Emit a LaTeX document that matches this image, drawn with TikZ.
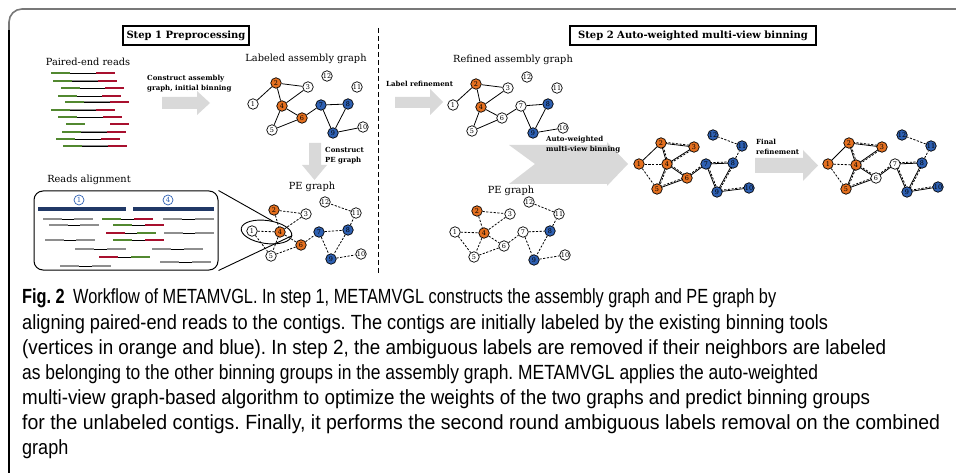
\documentclass[tikz,border=0pt]{standalone}
\usepackage{fontspec}
\usepackage{graphicx}
\setmainfont{DejaVu Serif}
\newfontfamily\capfont{Liberation Sans}[FakeStretch=0.88]
\usetikzlibrary{calc,backgrounds,shapes.geometric}
\frenchspacing

\definecolor{corange}{RGB}{228,112,32}
\definecolor{cblue}{RGB}{46,96,178}
\definecolor{cgreen}{RGB}{82,136,48}
\definecolor{cred}{RGB}{168,16,46}
\definecolor{cnavy}{RGB}{32,56,102}
\definecolor{cread}{RGB}{142,142,142}
\definecolor{carrow}{RGB}{217,217,217}
\definecolor{cframe}{RGB}{120,120,120}

% edges of the assembly graph, the PE graph and their combination
\newcommand\asmedges[1]{\foreach \a/\b in {1/2,2/3,2/4,3/4,4/5,4/6,5/6,6/7,7/8,7/9,8/9,9/10}{\draw[asm] (#1\a) -- (#1\b);}}
\newcommand\peedges[1]{\foreach \a/\b in {1/4,1/5,2/3,2/4,3/4,4/5,4/6,5/6,6/7,7/8,7/9,8/9,8/11,11/12,9/10}{\draw[pe] (#1\a) -- (#1\b);}}
\newcommand\combedges[1]{%
  \draw[asm] (#11) -- (#12);
  \foreach \a/\b in {1/4,1/5,8/11,11/12}{\draw[pe] (#1\a) -- (#1\b);}
  \foreach \a/\b in {2/3,2/4,3/4,4/5,4/6,5/6,6/7,7/8,7/9,8/9,9/10}{%
    \draw[asm] (#1\a.center) -- (#1\b.center);
    \draw[pe] ($(#1\a.center)!1.2pt!90:(#1\b.center)$) -- ($(#1\b.center)!1.2pt!-90:(#1\a.center)$);}}
% one paired read: bar, insert line, bar
\newcommand\pread[7]{%
  \draw[bar,#6] (#2,#1) -- (#3,#1);
  \draw[ins] (#3,#1) -- (#4,#1);
  \draw[bar,#7] (#4,#1) -- (#5,#1);}
% caption line set to a given width
\newcommand\capfit[2]{\resizebox{#1pt}{\height}{#2}}

\begin{document}
\begin{tikzpicture}[x=1pt,y=-1pt,
  vtx/.style={circle,draw,line width=0.7,minimum size=10.5,inner sep=0,
    font=\fontsize{6.5}{7}\selectfont},
  wv/.style={vtx,fill=white},
  ov/.style={vtx,fill=corange},
  bv/.style={vtx,fill=cblue},
  asm/.style={line width=0.8},
  pe/.style={line width=0.8,dash pattern=on 2.2pt off 1.5pt},
  bar/.style={line width=2.8,line cap=butt},
  ins/.style={line width=0.7},
  stepbox/.style={draw,line width=1.2,minimum height=19,inner sep=0,
    font=\bfseries\fontsize{10}{11}\selectfont},
  title/.style={font=\fontsize{9.8}{11}\selectfont},
  small/.style={font=\bfseries\fontsize{7}{10}\selectfont,align=left,anchor=west,inner sep=0},
  blockarrow/.style={fill=carrow,draw=none},
  capline/.style={anchor=base west,inner sep=0,font=\capfont\fontsize{20.5}{25}\selectfont}
]
\useasboundingbox (0,0) rectangle (956,473);

% outer frame, open at right and bottom
\draw[cframe,line width=1.6,rounded corners=13] (9,300) -- (9,9) -- (956,9);
\draw[line width=1.3] (9,30) -- (9,473);

% separator between the two steps
\draw[line width=0.9,dash pattern=on 5pt off 3pt] (378,28) -- (378,274);

% step headings
\node[stepbox,minimum width=126] (step1) at (186,35.5) {Step 1 Preprocessing};
\node[stepbox,minimum width=246] (step2) at (693,35.5) {Step 2 Auto-weighted multi-view binning};

% ---------- paired-end reads ----------
\node[title] (pairedT) at (88,62) {Paired-end reads};
\pread{73}{51}{70}{96}{115}{cgreen}{cred}
\pread{81}{53}{72}{98}{117}{cgreen}{cred}
\pread{88}{61}{80}{105}{124}{cgreen}{cred}
\pread{96}{58}{77}{102}{121}{cgreen}{cred}
\pread{102}{65}{84}{110}{129}{cgreen}{cred}
\pread{110}{51}{70}{96}{115}{cgreen}{cred}
\pread{117}{58}{77}{103}{122}{cgreen}{cred}
\draw[bar,cgreen] (66,124) -- (85,124);
\draw[bar,cred] (110,124) -- (129,124);
\pread{132}{62}{81}{107}{126}{cgreen}{cred}
\pread{139}{56}{75}{101}{120}{cgreen}{cred}
\pread{146}{63}{82}{108}{127}{cgreen}{cred}
% grey inserts
\foreach \y/\a/\b in {81/72/98,102/84/110,110/70/96,132/81/107,146/82/108}
  \draw[ins,cread,line width=1] (\a,\y) -- (\b,\y);

% arrow: construct assembly graph
\fill[blockarrow] (162,97) -- (197,97) -- (197,91) -- (210,103) -- (197,115) -- (197,109) -- (162,109) -- cycle;
\node[small] (lbl1) at (147,84) {Construct assembly\\graph, initial binning};

% ---------- labeled assembly graph ----------
\node[title] (asmT) at (306,59) {Labeled assembly graph};
\foreach \n/\x/\y/\s in {1/253/104/wv,2/276/83/ov,3/308/87/wv,4/282/106/ov,5/272/130/wv,6/302/118/ov,
  7/321/105/bv,8/348/104/bv,9/333/133/bv,10/363/127/wv,11/357/87/wv,12/327/76/wv}
  \node[\s] (A\n) at (\x,\y) {\n};
\begin{pgfonlayer}{background}\asmedges{A}\end{pgfonlayer}

% arrow: construct PE graph
\fill[blockarrow] (309,143) -- (321,143) -- (321,165) -- (327,165) -- (314.5,180) -- (302,165) -- (309,165) -- cycle;
\node[small] (lbl2) at (325,156) {Construct\\PE graph};

% ---------- PE graph (step 1) ----------
\node[title] (peT1) at (312,187) {PE graph};
\foreach \n/\x/\y/\s in {1/252/231/wv,2/274/210/ov,3/306/214/wv,4/280/232/ov,5/271/256/wv,6/301/245/ov,
  7/319/232/bv,8/348/230/bv,9/331/259/bv,10/361/254/wv,11/356/213/wv,12/325/202/wv}
  \node[\s] (P\n) at (\x,\y) {\n};
\begin{pgfonlayer}{background}\peedges{P}\end{pgfonlayer}
\node[ellipse,draw,line width=0.9,minimum width=51,minimum height=23,inner sep=0,rotate=-8] (ell) at (266.5,232) {};

% ---------- reads alignment ----------
\node[title] (alignT) at (89,180) {Reads alignment};
\node[draw,line width=1,rounded corners=9,minimum width=184,minimum height=79,inner sep=0] (rbox) at (126,230.5) {};
\draw[line width=0.9] (rbox.north east) -- (ell.70);
\draw[line width=0.9] (rbox.south east) -- (ell.east);
\node[circle,draw=cblue,text=cblue,line width=0.7,minimum size=10,inner sep=0,font=\fontsize{7}{8}\selectfont] (c1) at (79,200) {1};
\node[circle,draw=cblue,text=cblue,line width=0.7,minimum size=10,inner sep=0,font=\fontsize{7}{8}\selectfont] (c4) at (168,200) {4};
\draw[bar,cnavy,line width=3.5] (38,209) -- (126,209);
\draw[bar,cnavy,line width=3.5] (133,209) -- (214,209);
\pread{219}{43}{62}{74}{93}{cread}{cread}
\pread{219}{102}{121}{134}{153}{cgreen}{cred}
\pread{219}{163}{182}{195}{214}{cread}{cread}
\pread{225}{49}{68}{80}{99}{cread}{cread}
\pread{225}{113}{132}{145}{164}{cgreen}{cred}
\pread{233}{106}{125}{137}{156}{cred}{cgreen}
\pread{233}{164}{183}{195}{214}{cread}{cread}
\pread{240}{45}{64}{76}{95}{cread}{cread}
\pread{240}{113}{132}{145}{164}{cgreen}{cred}
\pread{249}{75}{94}{107}{126}{cread}{cread}
\pread{249}{152}{171}{184}{203}{cread}{cread}
\pread{257}{99}{118}{131}{150}{cred}{cgreen}
\pread{262}{160}{179}{192}{211}{cread}{cread}
\pread{266}{60}{79}{92}{111}{cread}{cread}

% ---------- step 2 ----------
\fill[blockarrow] (395,97) -- (430,97) -- (430,89) -- (443,102) -- (430,115) -- (430,108) -- (395,108) -- cycle;
\node[small] (lbl3) at (386,84) {Label refinement};

\node[title] (refT) at (513,60) {Refined assembly graph};
\foreach \n/\x/\y/\s in {1/453/105/wv,2/476/84/ov,3/508/88/wv,4/481/107/ov,5/472/131/wv,6/502/118/wv,
  7/521/106/wv,8/548/104/bv,9/533/133/bv,10/563/128/wv,11/557/88/wv,12/527/77/wv}
  \node[\s] (R\n) at (\x,\y) {\n};
\begin{pgfonlayer}{background}\asmedges{R}\end{pgfonlayer}

\node[title] (peT2) at (511,191) {PE graph};
\foreach \n/\x/\y/\s in {1/455/232/wv,2/477/211/ov,3/510/214/wv,4/484/233/ov,5/474/257/wv,6/504/246/wv,
  7/523/232/wv,8/550/231/bv,9/534/260/bv,10/565/255/wv,11/559/214/wv,12/529/202/wv}
  \node[\s] (Q\n) at (\x,\y) {\n};
\begin{pgfonlayer}{background}\peedges{Q}\end{pgfonlayer}

% notched arrow: auto-weighted multi-view binning
\fill[blockarrow] (509,145) -- (607,145) -- (607,142) -- (628,164) -- (607,186) -- (607,184) -- (509,184) -- (535,164) -- cycle;
\node[small] (lbl4) at (546,145) {Auto-weighted\\multi-view binning};

% combined graph
\foreach \n/\x/\y/\s in {1/639/164/ov,2/661/143/ov,3/694/147/ov,4/667/164/ov,5/657/189/ov,6/687/178/ov,
  7/706/164/bv,8/733/163/bv,9/717/192/bv,10/749/188/bv,11/742/146/bv,12/713/135/bv}
  \node[\s] (C\n) at (\x,\y) {\n};
\begin{pgfonlayer}{background}\combedges{C}\end{pgfonlayer}

% arrow: final refinement
\fill[blockarrow] (755,158) -- (803,158) -- (803,150) -- (818,165.5) -- (803,181) -- (803,173) -- (755,173) -- cycle;
\node[small] (lbl5) at (756,147) {Final\\refinement};

% final graph
\foreach \n/\x/\y/\s in {1/828/164/ov,2/849/143/ov,3/882/147/ov,4/856/165/ov,5/846/189/ov,6/876/178/wv,
  7/895/164/wv,8/922/163/bv,9/907/192/bv,10/938/187/bv,11/931/146/bv,12/902/135/bv}
  \node[\s] (F\n) at (\x,\y) {\n};
\begin{pgfonlayer}{background}\combedges{F}\end{pgfonlayer}

% ---------- caption ----------
\node[capline] (cap1) at (22,303) {\capfit{754}{\textbf{Fig. 2}\hspace{0.45em}Workflow of METAMVGL. In step 1, METAMVGL constructs the assembly graph and PE graph by}};
\node[capline] (cap2) at (22,329) {\capfit{806}{aligning paired-end reads to the contigs. The contigs are initially labeled by the existing binning tools}};
\node[capline] (cap3) at (22,354) {\capfit{864}{(vertices in orange and blue). In step 2, the ambiguous labels are removed if their neighbors are labeled}};
\node[capline] (cap4) at (22,379) {\capfit{796}{as belonging to the other binning groups in the assembly graph. METAMVGL applies the auto-weighted}};
\node[capline] (cap5) at (22,404) {\capfit{848}{multi-view graph-based algorithm to optimize the weights of the two graphs and predict binning groups}};
\node[capline] (cap6) at (22,429) {\capfit{918}{for the unlabeled contigs. Finally, it performs the second round ambiguous labels removal on the combined}};
\node[capline] (cap7) at (22,454) {graph};
\end{tikzpicture}
\end{document}
